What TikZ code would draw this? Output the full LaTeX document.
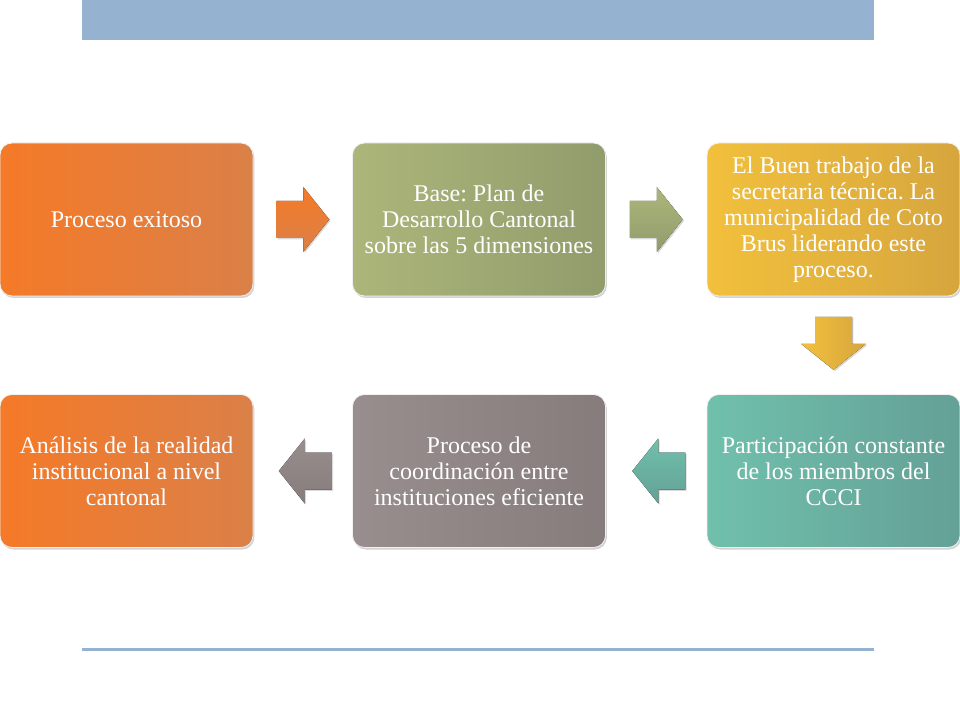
\documentclass[tikz,border=0pt]{standalone}
\usepackage{fontspec}
\setmainfont{Liberation Serif}
\usetikzlibrary{calc,shadows}
\definecolor{barblue}{RGB}{149,179,208}
\definecolor{orA}{RGB}{245,122,40}
\definecolor{orB}{RGB}{218,128,72}
\definecolor{grA}{RGB}{172,182,122}
\definecolor{grB}{RGB}{145,156,108}
\definecolor{yeA}{RGB}{242,192,60}
\definecolor{yeB}{RGB}{214,166,62}
\definecolor{teA}{RGB}{112,192,172}
\definecolor{teB}{RGB}{100,160,150}
\definecolor{gyA}{RGB}{152,142,142}
\definecolor{gyB}{RGB}{134,124,124}
\tikzset{
  box/.style={rounded corners=9pt, minimum width=189.75pt, minimum height=114.75pt,
    inner sep=0pt, align=center, text=white, draw=white!70!black!20, line width=0.6pt,
    font=\frenchspacing\fontsize{18}{19.5}\selectfont,
    drop shadow={shadow xshift=1pt, shadow yshift=-1.5pt, opacity=0.35}},
  pics/barrow/.style={code={
    \fill[drop shadow={shadow xshift=1pt, shadow yshift=-1pt, opacity=0.3}, #1]
      (-26.5,-18.5) -- (0.5,-18.5) -- (0.5,-32.5) -- (26.5,0) -- (0.5,32.5)
      -- (0.5,18.5) -- (-26.5,18.5) -- cycle;}}
}
\begin{document}
\begin{tikzpicture}[x=0.75pt,y=-0.75pt]
\useasboundingbox (0,0) rectangle (960,720);
\fill[barblue] (82,0) rectangle (874,40);
\fill[barblue] (82,648) rectangle (874,651);

\node[box, left color=orA, right color=orB] (b1) at (126.5,219.5) {Proceso exitoso};
\node[box, left color=grA, right color=grB] (b2) at (479,219.5) {Base: Plan de\\Desarrollo Cantonal\\sobre las 5 dimensiones};
\node[box, left color=yeA, right color=yeB] (b3) at (833.5,219.5) {El Buen trabajo de la\\secretaria técnica. La\\municipalidad de Coto\\Brus liderando este\\proceso.};
\node[box, left color=teA, right color=teB] (b4) at (833.5,471) {Participación constante\\de los miembros del\\CCCI};
\node[box, left color=gyA, right color=gyB] (b5) at (479,471) {Proceso de\\coordinación entre\\instituciones eficiente};
\node[box, left color=orA, right color=orB] (b6) at (126.5,471) {Análisis de la realidad\\institucional a nivel\\cantonal};

\coordinate (a1) at ($(b1.east)!0.5!(b2.west)$);
\coordinate (a2) at ($(b2.east)!0.5!(b3.west)$);
\coordinate (a3) at ($(b3.south)!0.5!(b4.north)+(0,-2)$);
\coordinate (a4) at ($(b5.east)!0.5!(b4.west)+(2.5,0)$);
\coordinate (a5) at ($(b6.east)!0.5!(b5.west)+(2.5,0)$);

\pic at (a1) {barrow={top color=orA, bottom color=orB}};
\pic at (a2) {barrow={top color=grA, bottom color=grB}};
\pic[rotate=-90] at (a3) {barrow={left color=yeA, right color=yeB}};
\pic[rotate=180] at (a4) {barrow={top color=teA, bottom color=teB}};
\pic[rotate=180] at (a5) {barrow={top color=gyA, bottom color=gyB}};
\end{tikzpicture}
\end{document}
